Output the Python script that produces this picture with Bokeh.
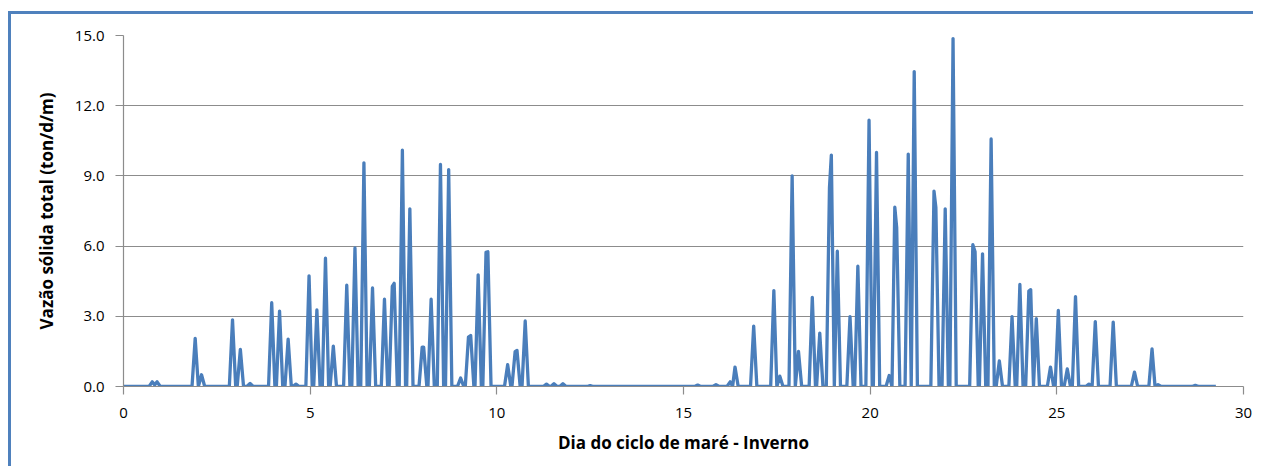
from bokeh.plotting import figure
from bokeh.models import Range1d, FixedTicker, PrintfTickFormatter
from bokeh.embed import file_html
from bokeh.resources import INLINE

# ---- data (day of tidal cycle, total solid discharge ton/d/m) ----
peak_day = [0.77, 0.835, 0.90, 1.92, 2.09, 2.92, 3.13, 3.39, 3.97, 4.18, 4.41, 4.62,
            4.97, 5.18, 5.41, 5.62, 5.98, 6.20, 6.44, 6.67, 6.99, 7.20, 7.25, 7.47,
            7.67, 8.00, 8.04, 8.24, 8.49, 8.71, 9.03, 9.24, 9.30, 9.50, 9.71, 9.76,
            10.29, 10.49, 10.54, 10.76, 11.33, 11.53, 11.77, 12.50,
            15.38, 15.87, 16.25, 16.38, 16.88, 17.42, 17.58, 17.91, 18.08, 18.45,
            18.65, 18.91, 18.96, 19.12, 19.46, 19.67, 19.97, 20.17, 20.51, 20.66,
            20.71, 21.02, 21.18, 21.71, 21.76, 22.01, 22.22, 22.75, 22.81, 23.01,
            23.24, 23.46, 23.80, 24.01, 24.25, 24.30, 24.45, 24.83, 25.04, 25.28,
            25.50, 25.86, 26.03, 26.51, 27.08, 27.55, 27.71, 28.71]
peak_q = [0.20, 0.07, 0.20, 2.06, 0.50, 2.85, 1.59, 0.13, 3.58, 3.22, 2.02, 0.10,
          4.73, 3.27, 5.48, 1.72, 4.33, 5.92, 9.56, 4.21, 3.73, 4.28, 4.41, 10.10,
          7.59, 1.68, 1.68, 3.73, 9.49, 9.27, 0.36, 2.11, 2.18, 4.77, 5.73, 5.76,
          0.93, 1.49, 1.54, 2.80, 0.10, 0.12, 0.12, 0.04,
          0.06, 0.08, 0.20, 0.83, 2.58, 4.10, 0.44, 9.00, 1.50, 3.81,
          2.28, 8.50, 9.89, 5.78, 2.99, 5.14, 11.38, 10.00, 0.47, 7.66,
          6.80, 9.93, 13.46, 8.35, 7.65, 7.59, 14.87, 6.06, 5.76, 5.67,
          10.58, 1.09, 2.99, 4.36, 4.08, 4.14, 2.90, 0.83, 3.25, 0.75,
          3.84, 0.10, 2.77, 2.75, 0.61, 1.61, 0.08, 0.05]
series_start = 0.0
series_end = 29.26
base_half_width = 0.085

x_ticks = [0, 5, 10, 15, 20, 25, 30]
y_ticks = [0, 3, 6, 9, 12, 15]
x_label = "Dia do ciclo de maré - Inverno"
y_label = "Vazão sólida total (ton/d/m)"

# build the series: each peak rises from and falls back to the zero baseline
t = [series_start]
q = [0.0]
n = len(peak_day)
h = base_half_width
for i in range(n):
    d, v = peak_day[i], peak_q[i]
    if i == 0:
        t.append(d - h); q.append(0.0)
    else:
        gap = d - peak_day[i - 1]
        if gap >= 2 * h:
            t.append(d - h); q.append(0.0)
        elif gap >= 0.12:
            t.append(d - gap / 2); q.append(0.0)
    t.append(d); q.append(v)
    if i == n - 1 or peak_day[i + 1] - d >= 2 * h:
        t.append(d + h); q.append(0.0)
t.append(series_end); q.append(0.0)

FONT = "Open Sans"
GRID = "#8C8C8C"

p = figure(width=1245, height=455, output_backend="svg", toolbar_location=None,
           x_range=Range1d(0, 30), y_range=Range1d(0, 15),
           min_border_left=112, min_border_right=13, min_border_top=21, min_border_bottom=83)
p.styles = {"border-left": "3px solid #4F81BD", "border-top": "3px solid #4F81BD",
            "border-right": "none", "border-bottom": "none",
            "margin-left": "8px", "margin-top": "11px"}
p.outline_line_color = None
p.background_fill_color = "white"
p.border_fill_color = "white"

p.line(t, q, line_color="#4A7EBB", line_width=3.3, line_join="round")

p.xgrid.grid_line_color = None
p.ygrid.grid_line_color = GRID
p.ygrid.grid_line_width = 1.2

p.xaxis.ticker = FixedTicker(ticks=x_ticks)
p.yaxis.ticker = FixedTicker(ticks=y_ticks)
p.yaxis.formatter = PrintfTickFormatter(format="%.1f")

for ax in (p.xaxis, p.yaxis):
    ax.axis_line_color = GRID
    ax.axis_line_width = 1.2
    ax.major_tick_line_color = GRID
    ax.major_tick_line_width = 1.2
    ax.major_tick_out = 8
    ax.major_tick_in = 0
    ax.minor_tick_line_color = None
    ax.major_label_text_font = FONT
    ax.major_label_text_font_size = "15px"
    ax.major_label_text_color = "#000000"
    ax.axis_label_text_font = FONT
    ax.axis_label_text_font_size = "17px"
    ax.axis_label_text_font_style = "bold"
    ax.axis_label_text_color = "#000000"

p.xaxis.axis_label = x_label
p.yaxis.axis_label = y_label
p.xaxis.major_label_standoff = 13
p.yaxis.major_label_standoff = 11
p.xaxis.axis_label_standoff = 10
p.yaxis.axis_label_standoff = 14

open("out.html", "w").write(file_html(p, INLINE))
